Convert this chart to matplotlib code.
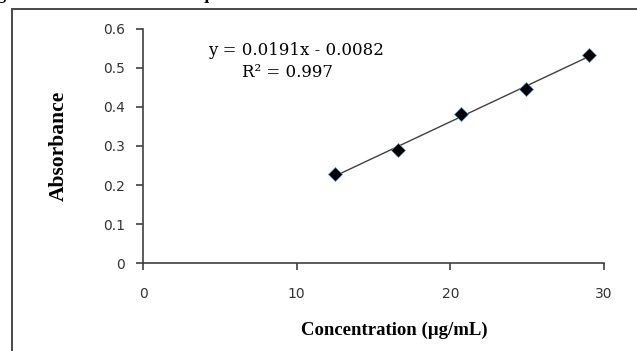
import numpy as np
import matplotlib.pyplot as plt
from matplotlib.patches import Rectangle

# data
conc = [12.5, 16.6, 20.7, 24.9, 29.0]
absorb = [0.227, 0.291, 0.383, 0.445, 0.533]
xticks = [0, 10, 20, 30]
yticks = [0, 0.1, 0.2, 0.3, 0.4, 0.5, 0.6]
ytick_labels = ['0', '0.1', '0.2', '0.3', '0.4', '0.5', '0.6']
eq_text = 'y = 0.0191x - 0.0082'
r2_text = 'R² = 0.997'

fig = plt.figure(figsize=(6.37, 3.51), dpi=100)
ax = fig.add_axes([0.2245, 0.2507, 0.7235, 0.6667])

# outer frame and clipped caption from the source page
fig.patches.append(Rectangle((0.019, -0.2), 1.2, 0.2 + 0.974, transform=fig.transFigure,
                             fill=False, edgecolor='#3a3a3a', linewidth=1.3))
fig.text(-0.03, 1.003, 'Figure 3: Standard curve of quercetin', fontsize=13,
         fontweight='bold', family='Liberation Serif', va='baseline', ha='left')

# trend line
p = np.polyfit(conc, absorb, 1)
xs = np.array([min(conc), max(conc)])
ax.plot(xs, np.polyval(p, xs), color='#404040', linewidth=1.0, zorder=2)
ax.plot(conc, absorb, 'D', color='black', markeredgecolor='#5b8fc7',
        markeredgewidth=0.5, markersize=7, zorder=3)

ax.set_xlim(0, 30)
ax.set_ylim(0, 0.6)
ax.set_xticks(xticks)
ax.set_yticks(yticks)
ax.set_yticklabels(ytick_labels)
for s in ['top', 'right']:
    ax.spines[s].set_visible(False)
for s in ['left', 'bottom']:
    ax.spines[s].set_color('#404040')
    ax.spines[s].set_linewidth(1.2)
ax.tick_params(direction='out', length=5, width=1.2, color='#404040',
               labelsize=10, labelcolor='#333333', pad=8)
ax.tick_params(axis='x', pad=12)

ax.set_xlabel('Concentration (µg/mL)', fontsize=13.5, fontweight='bold',
              family='Liberation Serif')
ax.xaxis.set_label_coords(0.545, -0.25)
ax.set_ylabel('Absorbance', fontsize=15.5, fontweight='bold',
              family='Liberation Serif')
ax.yaxis.set_label_coords(-0.16, 0.5)

ax.text(0.331, 0.91, eq_text, transform=ax.transAxes, fontsize=12,
        family='DejaVu Serif', ha='center', va='center')
ax.text(0.313, 0.812, r2_text, transform=ax.transAxes, fontsize=12,
        family='DejaVu Serif', ha='center', va='center')

fig.savefig('out.png', dpi=100)
